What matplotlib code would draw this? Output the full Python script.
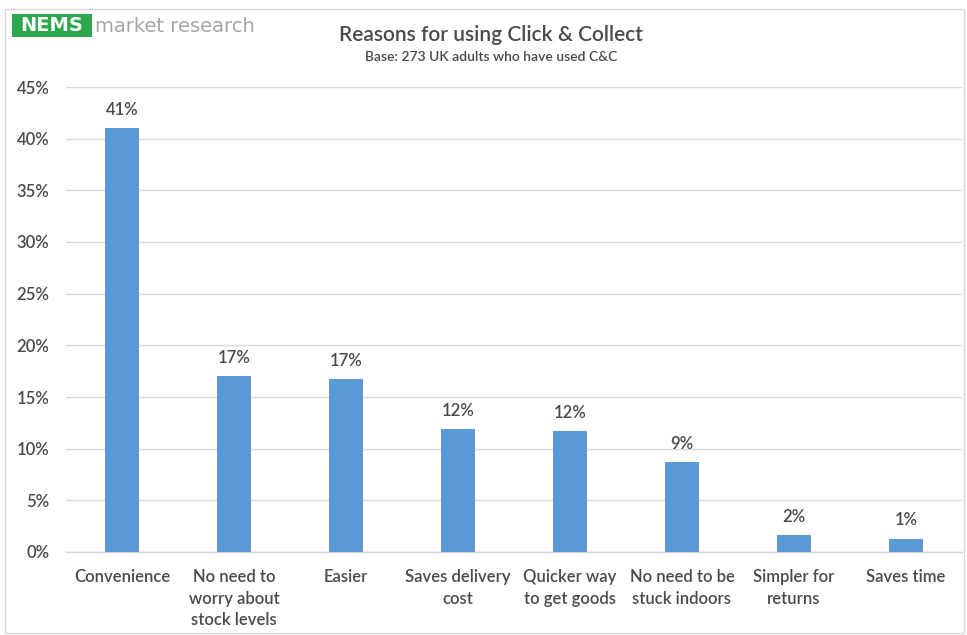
import matplotlib
matplotlib.use("Agg")
import matplotlib.pyplot as plt
from matplotlib.patches import Rectangle

categories = [
    "Convenience",
    "No need to\nworry about\nstock levels",
    "Easier",
    "Saves delivery\ncost",
    "Quicker way\nto get goods",
    "No need to be\nstuck indoors",
    "Simpler for\nreturns",
    "Saves time",
]
values = [41.0, 17.0, 16.7, 11.9, 11.7, 8.7, 1.6, 1.3]
yticks = [0, 5, 10, 15, 20, 25, 30, 35, 40, 45]

plt.rcParams["font.family"] = ["Lato", "DejaVu Sans"]
text_col = "#4a4a4a"
bar_col = "#5b9bd5"
grid_col = "#d9d9d9"

W, H = 967, 635
fig = plt.figure(figsize=(W / 100, H / 100), dpi=100)
ax = fig.add_axes([66 / W, (H - 552) / H, 896 / W, (552 - 87) / H])

x = range(len(categories))
ax.bar(x, values, width=0.3, color=bar_col, zorder=3)
for xi, v in zip(x, values):
    ax.text(xi, v + 1.0, f"{v:.0f}%", ha="center", va="bottom",
            fontsize=12, color=text_col, fontweight="semibold")

ax.set_xlim(-0.5, len(categories) - 0.5)
ax.set_ylim(0, 45)
ax.set_yticks(yticks)
ax.set_yticklabels([f"{t}%" for t in yticks], fontsize=12, color=text_col,
                   fontweight="semibold")
ax.set_xticks(list(x))
ax.set_xticklabels(categories, fontsize=12, color=text_col, linespacing=1.45,
                   va="top", fontweight="semibold")
ax.tick_params(axis="both", length=0)
ax.tick_params(axis="x", pad=12)
ax.tick_params(axis="y", pad=12)
ax.yaxis.grid(True, color=grid_col, linewidth=1, zorder=0)
for s in ["top", "right", "left"]:
    ax.spines[s].set_visible(False)
ax.spines["bottom"].set_color(grid_col)
ax.spines["bottom"].set_linewidth(1)

# titles
fig.text(491 / W, 1 - 35 / H, "Reasons for using Click & Collect", ha="center",
         va="center", fontsize=15, color=text_col, fontweight="semibold")
fig.text(491 / W, 1 - 57 / H, "Base: 273 UK adults who have used C&C", ha="center",
         va="center", fontsize=10, color=text_col, fontweight="semibold")

# logo
fig.patches.append(Rectangle((12 / W, 1 - 37 / H), 80 / W, 23 / H,
                             transform=fig.transFigure, facecolor="#2ea84f",
                             edgecolor="none"))
fig.text(52 / W, 1 - 25.5 / H, "NEMS", ha="center", va="center", fontsize=14,
         fontweight="bold", color="white", family="DejaVu Sans")
fig.text(95 / W, 1 - 26 / H, "market research", ha="left", va="center",
         fontsize=14, color="#a6a6a6", family="DejaVu Sans")

# outer frame
fig.patches.append(Rectangle((5 / W, 2 / H), (W - 8) / W, (H - 11) / H,
                             transform=fig.transFigure, facecolor="none",
                             edgecolor="#d9d9d9", linewidth=1))

fig.savefig("out.png", dpi=100)
